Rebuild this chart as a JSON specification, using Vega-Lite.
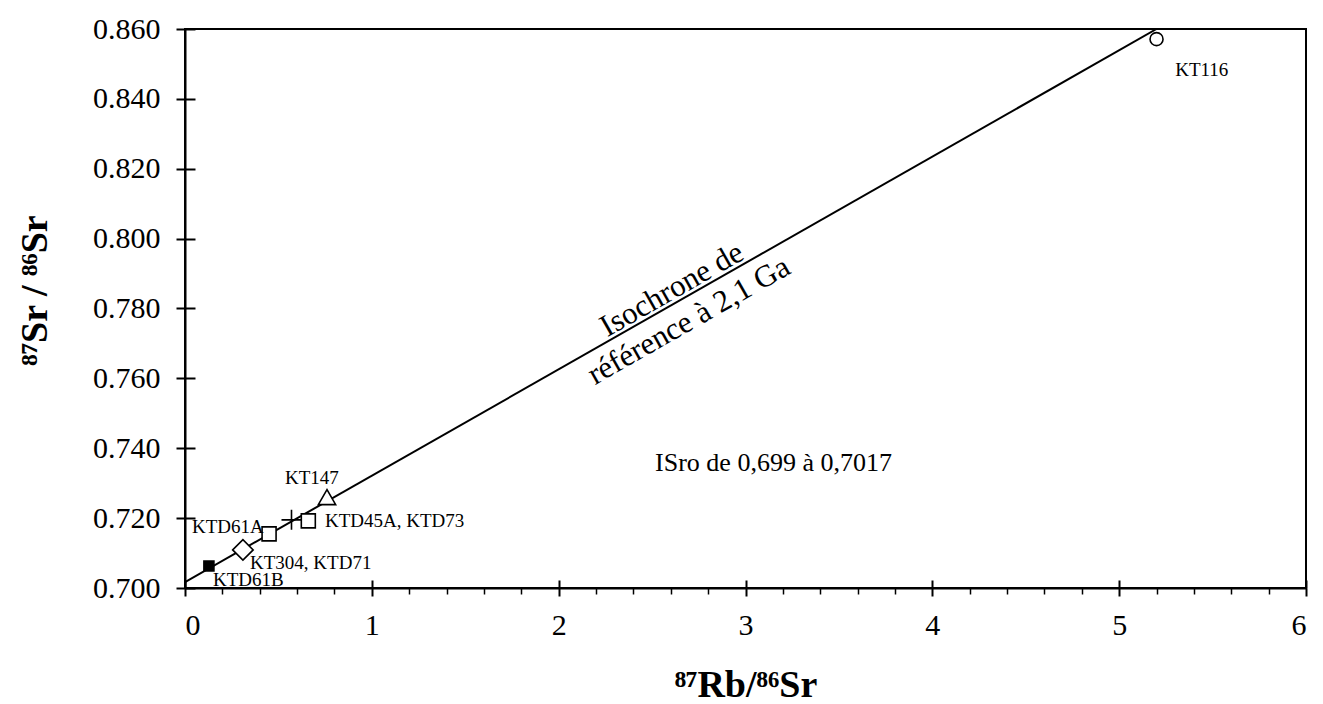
{
  "$schema": "https://vega.github.io/schema/vega-lite/v6.json",
  "width": 1121,
  "height": 559,
  "autosize": {"type": "none"},
  "padding": {"left": 185, "top": 29, "right": 17, "bottom": 116},
  "background": "white",
  "config": {
    "view": {"stroke": "black", "strokeWidth": 2},
    "font": "Liberation Serif",
    "axis": {
      "labelFont": "Liberation Serif",
      "titleFont": "Liberation Serif",
      "grid": false,
      "domainColor": "black",
      "tickColor": "black",
      "labelColor": "black",
      "titleColor": "black",
      "domainWidth": 2,
      "tickWidth": 2
    }
  },
  "datasets": {
    "isochrone": [
      {"rb": 0, "sr": 0.7017},
      {"rb": 5.2, "sr": 0.86}
    ],
    "samples": [
      {"sample": "KTD61B", "rb": 0.128, "sr": 0.7063},
      {"sample": "KT304", "rb": 0.31, "sr": 0.7109},
      {"sample": "KTD61A", "rb": 0.45, "sr": 0.7155},
      {"sample": "KTD73", "rb": 0.57, "sr": 0.7195},
      {"sample": "KTD45A", "rb": 0.66, "sr": 0.7192},
      {"sample": "KT147", "rb": 0.76, "sr": 0.726},
      {"sample": "KT116", "rb": 5.2, "sr": 0.8571}
    ],
    "labels": [
      {"label": "KTD61B", "rb": 0.15, "sr": 0.7023},
      {"label": "KT304, KTD71", "rb": 0.348, "sr": 0.7072},
      {"label": "KTD61A", "rb": 0.0375, "sr": 0.7175},
      {"label": "KTD45A, KTD73", "rb": 0.749, "sr": 0.7192},
      {"label": "KT147", "rb": 0.535, "sr": 0.7315},
      {"label": "KT116", "rb": 5.3, "sr": 0.8483}
    ],
    "isolabels": [
      {"label": "Isochrone de", "rb": 2.607, "sr": 0.7853},
      {"label": "référence à 2,1 Ga", "rb": 2.698, "sr": 0.7764}
    ],
    "note": [
      {"label": "ISro de 0,699 à 0,7017", "rb": 2.516, "sr": 0.7358}
    ]
  },
  "layer": [
    {
      "data": {"name": "isochrone"},
      "mark": {"type": "line", "color": "black", "strokeWidth": 2, "clip": true},
      "encoding": {
        "x": {
          "field": "rb", "type": "quantitative",
          "scale": {"domain": [0, 6], "nice": false, "zero": false},
          "axis": {
            "orient": "bottom",
            "values": [0, 1, 2, 3, 4, 5, 6], "format": "d",
            "labelFontSize": 30, "labelPadding": 14, "tickSize": 8,
            "title": "⁸⁷Rb/⁸⁶Sr", "titleFontSize": 38, "titleFontWeight": "bold",
            "titleBaseline": "alphabetic", "titleY": 108
          }
        },
        "y": {
          "field": "sr", "type": "quantitative",
          "scale": {"domain": [0.7, 0.86], "nice": false, "zero": false},
          "axis": {
            "orient": "left",
            "values": [0.7, 0.72, 0.74, 0.76, 0.78, 0.8, 0.82, 0.84, 0.86],
            "format": ".3f", "labelFontSize": 30, "labelPadding": 16, "tickSize": 9,
            "title": "⁸⁷Sr / ⁸⁶Sr", "titleFontSize": 38, "titleFontWeight": "bold",
            "titleAngle": -90, "titleAlign": "center", "titleBaseline": "middle",
            "titleX": -150, "titleY": 261
          }
        }
      }
    },
    {
      "data": {"name": "samples"},
      "mark": {"type": "point", "filled": true, "stroke": "black", "strokeWidth": 1.6, "opacity": 1},
      "encoding": {
        "x": {
          "field": "rb", "type": "quantitative",
          "scale": {"domain": [0, 6], "nice": false, "zero": false},
          "axis": {"orient": "bottom", "values": [0, 1, 2, 3, 4, 5, 6], "labels": false, "domain": false, "tickSize": -8, "title": null}
        },
        "y": {
          "field": "sr", "type": "quantitative",
          "scale": {"domain": [0.7, 0.86], "nice": false, "zero": false},
          "axis": {"orient": "left", "values": [0.7, 0.72, 0.74, 0.76, 0.78, 0.8, 0.82, 0.84, 0.86], "labels": false, "domain": false, "tickSize": -10, "title": null}
        },
        "shape": {
          "field": "sample", "type": "nominal", "legend": null,
          "scale": {
            "domain": ["KTD61B", "KT304", "KTD61A", "KTD73", "KTD45A", "KT147", "KT116"],
            "range": ["square", "diamond", "square", "M-1,0H1M0,-1V1", "square", "triangle-up", "circle"]
          }
        },
        "fill": {
          "field": "sample", "type": "nominal", "legend": null,
          "scale": {
            "domain": ["KTD61B", "KT304", "KTD61A", "KTD73", "KTD45A", "KT147", "KT116"],
            "range": ["black", "white", "white", "white", "white", "white", "white"]
          }
        },
        "size": {
          "field": "sample", "type": "nominal", "legend": null,
          "scale": {
            "type": "ordinal",
            "domain": ["KTD61B", "KT304", "KTD61A", "KTD73", "KTD45A", "KT147", "KT116"],
            "range": [100, 420, 196, 400, 196, 300, 169]
          }
        }
      }
    },
    {
      "data": {"name": "labels"},
      "mark": {"type": "text", "align": "left", "baseline": "middle", "fontSize": 19, "font": "Liberation Serif", "color": "black"},
      "encoding": {
        "x": {
          "field": "rb", "type": "quantitative",
          "scale": {"domain": [0, 6], "nice": false, "zero": false},
          "axis": {
            "orient": "bottom",
            "values": [0.2, 0.4, 0.6, 0.8, 1.2, 1.4, 1.6, 1.8, 2.2, 2.4, 2.6, 2.8, 3.2, 3.4, 3.6, 3.8, 4.2, 4.4, 4.6, 4.8, 5.2, 5.4, 5.6, 5.8],
            "labels": false, "domain": false, "tickSize": 6, "tickWidth": 1.5, "title": null
          }
        },
        "y": {
          "field": "sr", "type": "quantitative",
          "scale": {"domain": [0.7, 0.86], "nice": false, "zero": false},
          "axis": null
        },
        "text": {"field": "label"}
      }
    },
    {
      "data": {"name": "isolabels"},
      "mark": {"type": "text", "align": "center", "baseline": "middle", "fontSize": 31, "font": "Liberation Serif", "angle": -29.7, "color": "black"},
      "encoding": {
        "x": {"field": "rb", "type": "quantitative", "scale": {"domain": [0, 6], "nice": false, "zero": false}, "axis": null},
        "y": {"field": "sr", "type": "quantitative", "scale": {"domain": [0.7, 0.86], "nice": false, "zero": false}, "axis": null},
        "text": {"field": "label"}
      }
    },
    {
      "data": {"name": "note"},
      "mark": {"type": "text", "align": "left", "baseline": "middle", "fontSize": 26, "font": "Liberation Serif", "color": "black"},
      "encoding": {
        "x": {"field": "rb", "type": "quantitative", "scale": {"domain": [0, 6], "nice": false, "zero": false}, "axis": null},
        "y": {"field": "sr", "type": "quantitative", "scale": {"domain": [0.7, 0.86], "nice": false, "zero": false}, "axis": null},
        "text": {"field": "label"}
      }
    }
  ],
  "resolve": {"axis": {"x": "independent", "y": "independent"}}
}
